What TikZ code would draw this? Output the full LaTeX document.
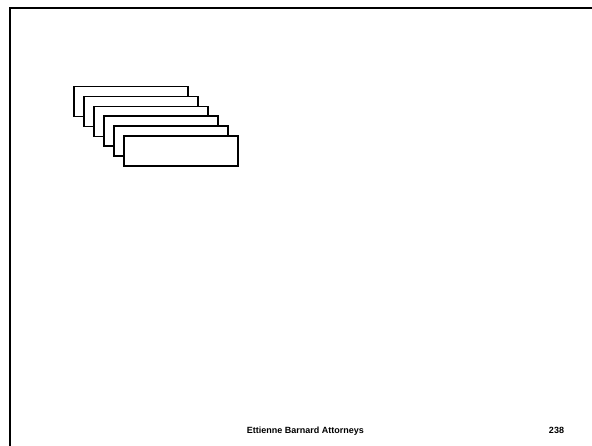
\documentclass[tikz,border=0pt]{standalone}
\usepackage{fontspec}
\setmainfont{Liberation Sans}
\begin{document}
\begin{tikzpicture}[x=1pt,y=-1pt,
  card/.style={draw=black,line width=1.7pt,fill=white,minimum width=114pt,minimum height=30pt,inner sep=0pt,anchor=north west},
  foot/.style={font=\fontsize{9}{10}\selectfont\bfseries,inner sep=0pt,anchor=base}]
\useasboundingbox (0,0) rectangle (592,445);
\clip (0,0) rectangle (592,445);
\fill[white] (0,0) rectangle (592,445);
\draw[line width=2.6pt] (9.8,8) rectangle (620,470);
\node[card] (c1) at (73.3,85.7) {};
\node[card] (c2) at (83.3,95.6) {};
\node[card] (c3) at (93.3,105.5) {};
\node[card] (c4) at (103.3,115.4) {};
\node[card] (c5) at (113.3,125.3) {};
\node[card] (c6) at (123.3,135.2) {};
\node[foot] (t1) at (305.5,433) {Ettienne Barnard Attorneys};
\node[foot] (t2) at (556.5,433) {238};
\end{tikzpicture}
\end{document}
